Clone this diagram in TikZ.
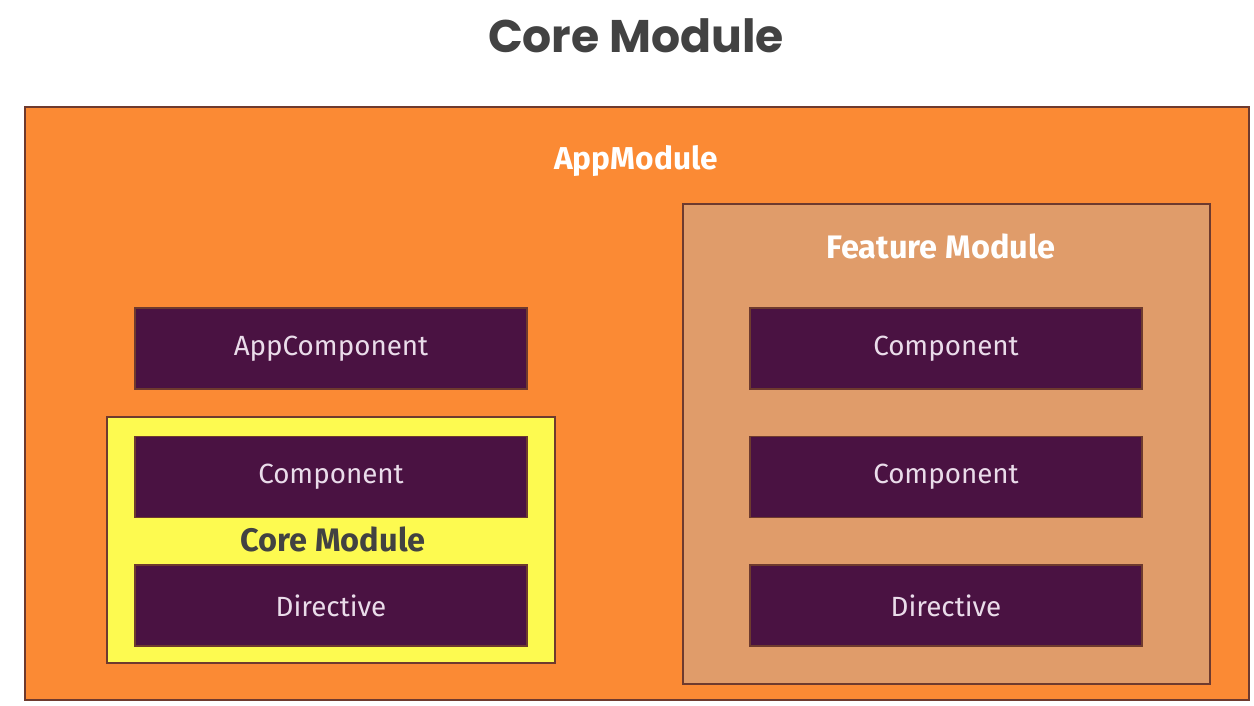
\documentclass[tikz,border=0pt]{standalone}
\usepackage{fontspec}
\setmainfont{Fira Sans}
\newfontfamily\titlefont{Poppins}

\definecolor{appfill}{HTML}{FB8A34}
\definecolor{featfill}{HTML}{E09C6A}
\definecolor{corefill}{HTML}{FDFA50}
\definecolor{partfill}{HTML}{4A1242}
\definecolor{parttext}{HTML}{EADCEA}
\definecolor{edge}{HTML}{6E3A2E}
\definecolor{darktext}{HTML}{424242}

\tikzset{modbox/.style={rectangle, draw=edge, line width=0.6pt, inner sep=0pt},
         part/.style={rectangle, draw=edge, fill=partfill, inner sep=0pt,
                      minimum width=3.92cm, minimum height=0.81cm,
                      text=parttext, font=\fontsize{7.9}{9}\selectfont},
         modlabel/.style={font=\bfseries\fontsize{9}{10}\selectfont, text=white}}

\begin{document}
\begin{tikzpicture}[x=0.01cm, y=-0.01cm]
      \useasboundingbox (0,0) rectangle (1254,706);
      \fill[white] (0,0) rectangle (1254,706);

      % title
      \node[font=\titlefont\bfseries\fontsize{13}{15}\selectfont, text=darktext]
        (title) at (636,36) {Core Module};

      % modules
      \node[modbox, fill=appfill, minimum width=12.24cm, minimum height=5.93cm]
        (app) at (637,403.5) {};
      \node[modbox, fill=featfill, minimum width=5.27cm, minimum height=4.80cm]
        (feat) at (946.5,444) {};
      \node[modbox, fill=corefill, minimum width=4.48cm, minimum height=2.46cm]
        (core) at (331,540) {};

      \node[modlabel] (applbl) at (636,161) {AppModule};
      \node[modlabel, font=\bfseries\fontsize{9.25}{10}\selectfont]
        (featlbl) at (941,246) {Feature Module};
      \node[modlabel, font=\bfseries\fontsize{9.25}{10}\selectfont, text=darktext]
        (corelbl) at (333,539) {Core Module};

      % parts
      \node[part] (appcomp) at (331,348.5) {AppComponent};
      \node[part] (corecomp) at (331,477) {Component};
      \node[part] (coredir) at (331,605.5) {Directive};
      \node[part] (featcompa) at (946,348.5) {Component};
      \node[part] (featcompb) at (946,477) {Component};
      \node[part] (featdir) at (946,605.5) {Directive};
    \end{tikzpicture}
\end{document}
